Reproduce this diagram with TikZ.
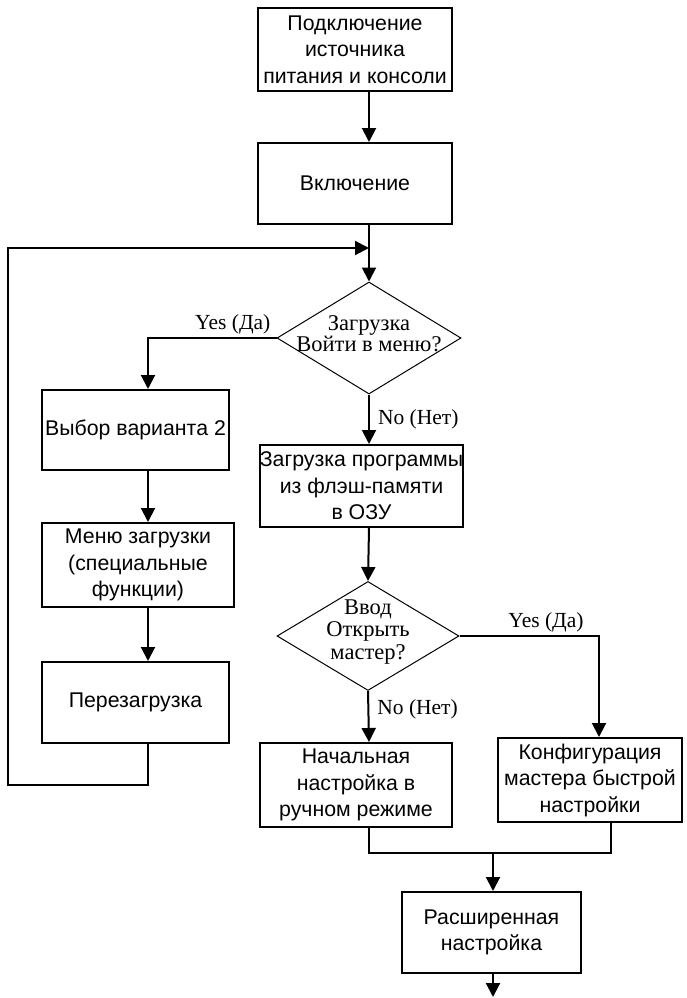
\documentclass[tikz,border=0pt]{standalone}
\usepackage{fontspec}
\setmainfont{Liberation Serif}
\setsansfont{Liberation Sans}
\usetikzlibrary{arrows.meta,shapes.geometric}

\begin{document}
\begin{tikzpicture}[
  x=1pt,y=-1pt,
  >={Triangle[width=14pt,length=14pt]},
  box/.style={draw,line width=2pt,align=center,inner sep=0pt,
    font=\sffamily\fontsize{21.3}{26.5}\selectfont},
  decision/.style={draw,diamond,line width=1pt,inner sep=0pt,
    minimum width=184pt,minimum height=112pt},
  dtext/.style={align=center,font=\fontsize{22.5}{21}\selectfont},
  lbl/.style={font=\fontsize{21.5}{21}\selectfont,inner sep=3pt},
  ar/.style={->,line width=2pt},
  ln/.style={line width=2pt},
]
\useasboundingbox (0,0) rectangle (686,998);

% columns of the connectors
\coordinate (colL) at (148,0);
\coordinate (colM) at (369,0);
\coordinate (colR) at (599,0);
\coordinate (colQ) at (611,0);
\coordinate (join) at (369,248);
\coordinate (loopbot) at (8,785);
\coordinate (merge) at (493,853);
\coordinate (finish) at (493,997);

\node[box,minimum width=194pt,minimum height=83pt] (power) at (355,49.5) {Подключение\\источника\\питания и консоли};
\node[box,minimum width=194pt,minimum height=81pt] (on) at (355,183.5) {Включение};
\node[decision,label={[dtext,yshift=4pt]center:Загрузка\\Войти в меню?}] (menuq) at (369,338) {};
\node[box,minimum width=187pt,minimum height=80pt] (opt) at (135.5,430) {Выбор варианта 2};
\node[box,minimum width=192pt,minimum height=84pt] (bootmenu) at (138,565) {Меню загрузки\\(специальные\\функции)};
\node[box,minimum width=187pt,minimum height=81pt] (reboot) at (135.5,702.5) {Перезагрузка};
\node[box,minimum width=203pt,minimum height=82pt] (load) at (361.5,486) {Загрузка программы\\из флэш-памяти\\в ОЗУ};
\node[decision,minimum width=182pt,minimum height=109pt,
  label={[dtext,yshift=4pt,font=\fontsize{22.5}{22.5}\selectfont]center:Ввод\\Открыть\\мастер?}] (wizq) at (368,636) {};
\node[box,minimum width=192pt,minimum height=84pt] (manual) at (356,785) {Начальная\\настройка в\\ручном режиме};
\node[box,minimum width=184pt,minimum height=84pt] (wizard) at (590,780) {Конфигурация\\мастера быстрой\\настройки};
\node[box,minimum width=179pt,minimum height=81pt] (adv) at (491.5,932.5) {Расширенная\\настройка};

\draw[ar] (power.south -| colM) -- (on.north -| colM);
\draw[ln] (on.south -| colM) -- (join);
\draw[ar] (join) -- (menuq.north);
\draw[ar] (menuq.west) -| (opt.north -| colL) node[lbl,pos=0.17,above] {Yes (Да)};
\draw[ar] (menuq.south) -- (load.north -| colM) node[lbl,midway,right=5pt] {No (Нет)};
\draw[ar] (opt.south -| colL) -- (bootmenu.north -| colL);
\draw[ar] (bootmenu.south -| colL) -- (reboot.north -| colL);
\draw[ar] (reboot.south -| colL) |- (loopbot) |- (join);
\draw[ar] (load.south -| colM) -- (wizq.north);
\draw[ar] (wizq.east) -| (wizard.north -| colR) node[lbl,pos=0.31,above] {Yes (Да)};
\draw[ar] (wizq.south) -- (manual.north -| colM) node[lbl,pos=0.35,right=5pt] {No (Нет)};
\draw[ln] (manual.south -| colM) |- (merge) -| (wizard.south -| colQ);
\draw[ar] (merge) -- (adv.north -| merge);
\draw[ar] (adv.south -| merge) -- (finish);
\end{tikzpicture}
\end{document}
